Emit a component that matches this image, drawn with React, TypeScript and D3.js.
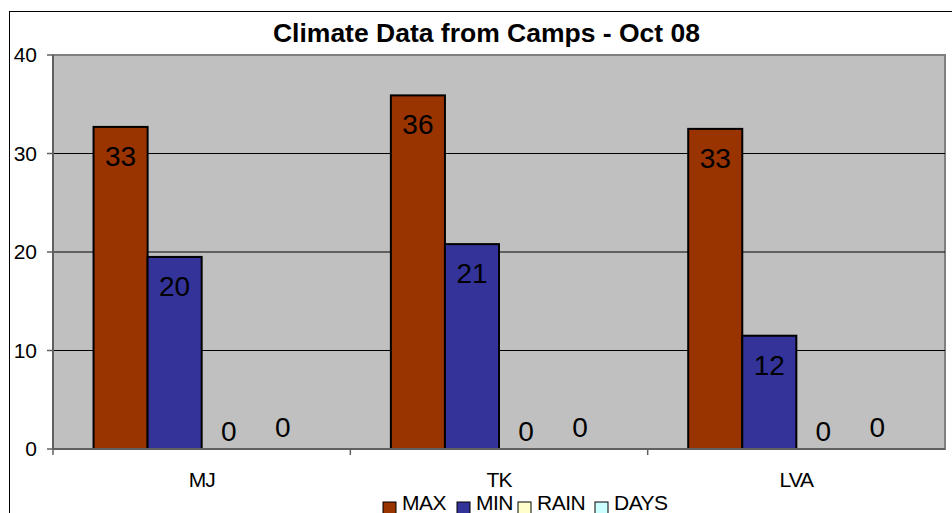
import React from 'react';
import * as d3 from 'd3';

const categories = ['MJ', 'TK', 'LVA'];
const seriesNames = ['MAX', 'MIN', 'RAIN', 'DAYS'];
const maxValues = [32.7, 35.9, 32.5];
const minValues = [19.5, 20.8, 11.5];
const rainValues = [0, 0, 0];
const daysValues = [0, 0, 0];
const yTicks = [0, 10, 20, 30, 40];

const colors = ['#993300', '#333399', '#FFFFCC', '#CCFFFF'];
const seriesValues = [maxValues, minValues, rainValues, daysValues];

export default function App() {
  const width = 952;
  const height = 513;
  const plot = { left: 53, right: 945, top: 55, bottom: 449 };
  const font = '"Liberation Sans", Arial, sans-serif';

  const x0 = d3.scaleBand().domain(categories).range([plot.left, plot.right]).paddingInner(0);
  // Excel-like gap width of 150%
  const barW = x0.bandwidth() / (seriesNames.length + 1.5);
  const x1 = d3.scaleBand()
    .domain(seriesNames)
    .range([x0.bandwidth() / 2 - barW * 2, x0.bandwidth() / 2 + barW * 2]);
  const y = d3.scaleLinear().domain([0, 40]).range([plot.bottom, plot.top]);

  const legendX = [383, 457, 518, 595];

  return (
    <svg width={width} height={height} style={{ position: 'absolute', left: 0, top: 0, display: 'block', background: '#fff' }} fontFamily={font}>
      {/* chart area border */}
      <rect x={9.5} y={11.5} width={960} height={520} fill="#fff" stroke="#000" strokeWidth={1} />

      <text x={486.5} y={42} textAnchor="middle" fontSize={26.5} fontWeight="bold">
        Climate Data from Camps - Oct 08
      </text>

      {/* plot area */}
      <rect x={plot.left} y={plot.top} width={plot.right - plot.left} height={plot.bottom - plot.top}
        fill="#C0C0C0" stroke="#808080" strokeWidth={2} />

      {yTicks.filter(t => t > 0 && t < 40).map(t => (
        <line key={t} x1={plot.left} x2={plot.right} y1={y(t)} y2={y(t)} stroke="#000" strokeWidth={1} />
      ))}

      {categories.map((c, ci) => (
        <g key={c} transform={`translate(${x0(c)},0)`}>
          {seriesNames.map((s, si) => {
            const v = seriesValues[si][ci];
            const bx = x1(s)!;
            return (
              <g key={s}>
                {v > 0 && (
                  <rect x={bx} y={y(v)} width={x1.bandwidth()} height={y(0) - y(v)}
                    fill={colors[si]} stroke="#000" strokeWidth={2} />
                )}
                <text x={bx + x1.bandwidth() / 2} y={v > 0 ? y(v) + 39 : y(0) - 8 - si % 2 * 4}
                  textAnchor="middle" fontSize={28} fill="#000">
                  {Math.round(v)}
                </text>
              </g>
            );
          })}
        </g>
      ))}

      {/* y axis */}
      <line x1={plot.left} x2={plot.left} y1={plot.top} y2={plot.bottom + 1} stroke="#606060" strokeWidth={2} />
      {yTicks.map(t => (
        <g key={t}>
          <line x1={plot.left - 6} x2={plot.left} y1={y(t)} y2={y(t)} stroke="#606060" strokeWidth={1.5} />
          <text x={37} y={y(t) + 7} textAnchor="end" fontSize={21}>{t}</text>
        </g>
      ))}

      {/* x axis */}
      <line x1={plot.left} x2={plot.right} y1={plot.bottom} y2={plot.bottom} stroke="#606060" strokeWidth={2} />
      {categories.map(c => (
        <g key={c}>
          <line x1={x0(c)!} x2={x0(c)!} y1={plot.bottom} y2={plot.bottom + 6} stroke="#606060" strokeWidth={1.5} />
          <text x={x0(c)! + x0.bandwidth() / 2} y={487} textAnchor="middle" fontSize={21} letterSpacing={-1}>{c}</text>
        </g>
      ))}

      {/* legend */}
      {seriesNames.map((s, i) => (
        <g key={s}>
          <rect x={legendX[i]} y={502} width={13} height={12} fill={colors[i]} stroke="#000" strokeWidth={1} />
          <text x={legendX[i] + 19} y={510} fontSize={21} letterSpacing={-0.5}>{s}</text>
        </g>
      ))}
    </svg>
  );
}
